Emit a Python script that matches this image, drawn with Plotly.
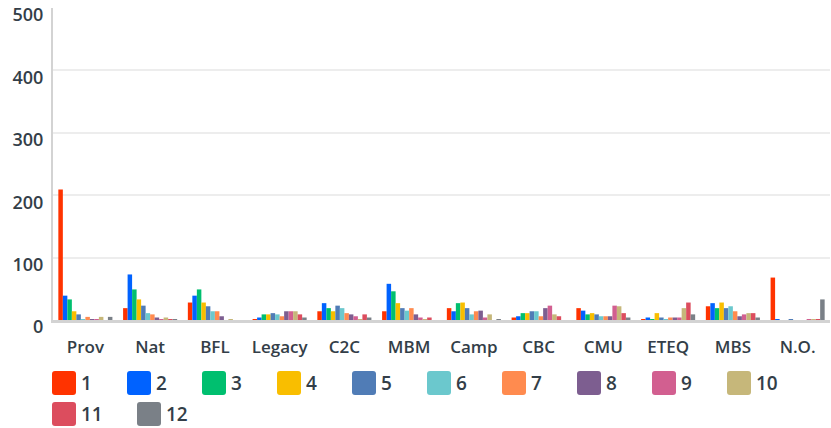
import plotly.graph_objects as go

categories = ["Prov", "Nat", "BFL", "Legacy", "C2C", "MBM", "Camp", "CBC", "CMU", "ETEQ", "MBS", "N.O."]
series_names = ["1", "2", "3", "4", "5", "6", "7", "8", "9", "10", "11", "12"]
colors = ["#FF3300", "#0062FF", "#00BF6F", "#F9BE00", "#507CB6", "#6BC8CD",
          "#FF8B4F", "#7D5E90", "#D25F90", "#C6B77A", "#DC4D5E", "#7A8087"]

# values[s][c] : series s, category c
s1 = [209, 19, 28, 1, 14, 14, 19, 4, 19, 1, 22, 68]
s2 = [39, 73, 39, 4, 27, 58, 14, 6, 15, 4, 27, 1]
s3 = [33, 49, 49, 9, 19, 46, 27, 11, 9, 1, 19, 0]
s4 = [14, 33, 28, 9, 14, 27, 28, 11, 11, 11, 28, 0]
s5 = [9, 23, 22, 11, 23, 19, 19, 14, 9, 4, 19, 1]
s6 = [1, 11, 14, 9, 19, 15, 9, 14, 6, 1, 22, 0]
s7 = [5, 9, 14, 6, 11, 19, 14, 6, 6, 4, 14, 0]
s8 = [1, 4, 6, 14, 9, 9, 15, 19, 6, 4, 6, 0]
s9 = [1, 1, 0, 14, 6, 4, 4, 23, 23, 4, 9, 1]
s10 = [5, 4, 1, 14, 1, 1, 9, 9, 22, 19, 11, 1]
s11 = [0, 1, 0, 9, 9, 4, 0, 6, 11, 28, 11, 1]
s12 = [5, 1, 0, 4, 4, 0, 1, 0, 4, 9, 4, 33]
series_values = [s1, s2, s3, s4, s5, s6, s7, s8, s9, s10, s11, s12]
y_ticks = [0, 100, 200, 300, 400, 500]

TEXT = "#333E48"
FONT = "Open Sans"

fig = go.Figure()
for name, vals, col in zip(series_names, series_values, colors):
    fig.add_trace(go.Bar(name=name, x=categories, y=vals, marker=dict(color=col, line=dict(width=0)),
                         showlegend=False))

W, H = 831, 428
ml, mr, mt, mb = 53, 1, 8, 108
pw, ph = W - ml - mr, H - mt - mb

def px_to_paper_x(p):
    return (p - ml) / pw

def px_to_paper_y(p):
    return (H - mb - p) / ph

# custom legend with large rounded squares
shapes = []
annotations = []
sq = 24
r = 3
half = sq / 2
path = (f"M {-half+r},{-half} L {half-r},{-half} Q {half},{-half} {half},{-half+r} "
        f"L {half},{half-r} Q {half},{half} {half-r},{half} L {-half+r},{half} "
        f"Q {-half},{half} {-half},{half-r} L {-half},{-half+r} Q {-half},{-half} {-half+r},{-half} Z")
x = 52
row_y = [383, 414]
row = 0
for i, (name, col) in enumerate(zip(series_names, colors)):
    if i == 10:
        row = 1
        x = 52
    cx = x + half
    cy = row_y[row]
    shapes.append(dict(type="path", xref="paper", yref="paper", xsizemode="pixel", ysizemode="pixel",
                       xanchor=px_to_paper_x(cx), yanchor=px_to_paper_y(cy), path=path,
                       fillcolor=col, line=dict(width=0), layer="above"))
    annotations.append(dict(text=name, xref="paper", yref="paper", x=px_to_paper_x(x + 27),
                            y=px_to_paper_y(cy), xanchor="left", yanchor="middle", showarrow=False,
                            font=dict(family=FONT, size=19, color=TEXT, weight=600)))
    x += 65 + 10 * len(name)

fig.update_layout(
    width=W, height=H,
    margin=dict(l=ml, r=mr, t=mt, b=mb, pad=0, autoexpand=False),
    paper_bgcolor="white", plot_bgcolor="white",
    barmode="group", bargap=0.165, bargroupgap=0,
    font=dict(family=FONT, color=TEXT),
    shapes=shapes, annotations=annotations,
    xaxis=dict(showgrid=False, showline=True, linecolor="#D3D3D3", linewidth=3, ticks="",
               automargin=False,
               tickfont=dict(family=FONT, size=17, color=TEXT, weight=600), ticklabelstandoff=10),
    yaxis=dict(range=[0, 500], tickvals=y_ticks, showgrid=True, gridcolor="#EDEDED", gridwidth=2,
               showline=True, linecolor="#D3D3D3", linewidth=2, zeroline=False, ticks="",
               automargin=False, ticklabeloverflow="allow",
               tickfont=dict(family=FONT, size=18, color=TEXT, weight=600),
               ticklabelshift=7, ticklabelstandoff=4),
)

fig.write_html("out.html", config={"displayModeBar": False},
               post_script="document.body.style.margin='0';document.body.style.padding='0';")
